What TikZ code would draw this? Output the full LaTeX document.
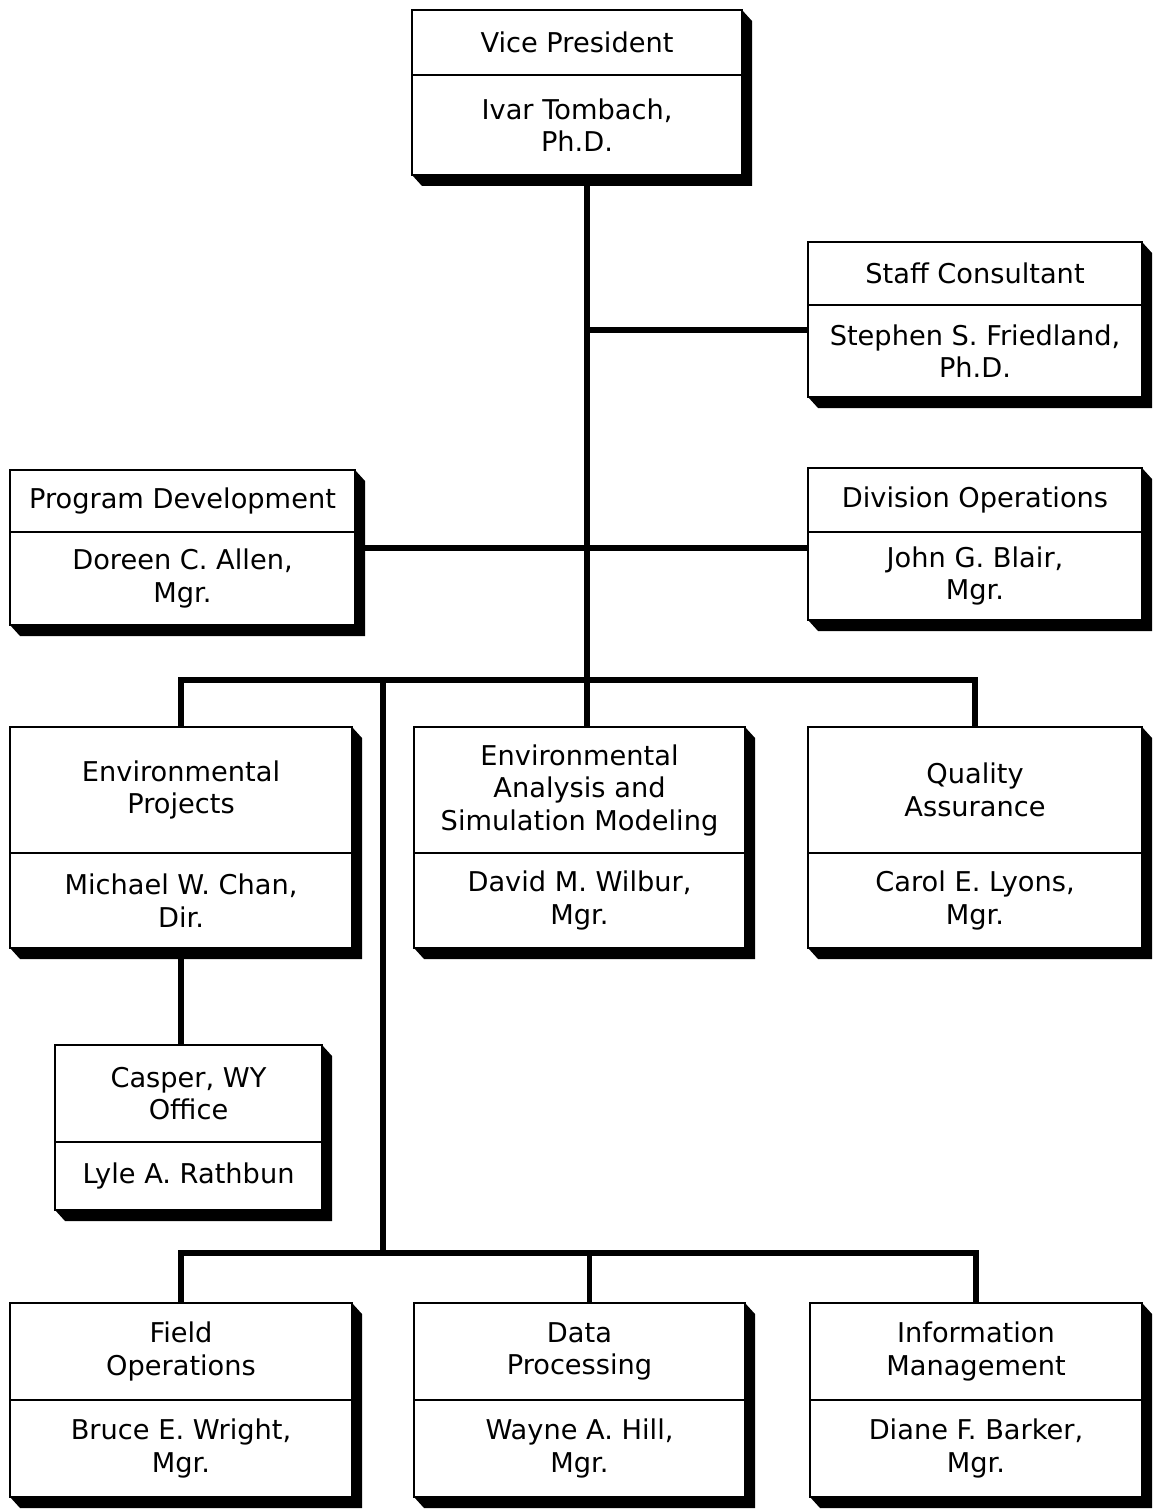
\documentclass[tikz,border=0pt]{standalone}
\usepackage{fontspec}
\setmainfont{DejaVu Sans}
\usetikzlibrary{calc,positioning}

% one unit box: name, x, y, width, head height, name height, title, person
\newcommand\unitbox[8]{%
	\node[head, minimum width=#4*0.02cm, minimum height=#5*0.02cm] (#1h) at (#2,#3) {#7};
	\node[who, minimum width=#4*0.02cm, minimum height=#6*0.02cm, below=0pt of #1h] (#1) {#8};
	\fill (#1h.north east) -- ++(10,11) -- ($(#1.south east)+(10,11)$) -- ($(#1.south west)+(10,11)$) -- (#1.south west) -- (#1.south east) -- cycle;
}

\begin{document}
\begin{tikzpicture}[
		x=0.02cm, y=-0.02cm,
		part/.style={draw, line width=1.4pt, fill=white, align=center, inner sep=0pt, outer sep=0pt,
			font=\fontsize{15.5}{18.5}\selectfont},
		head/.style={part, anchor=north west},
		who/.style={part},
		link/.style={line width=3.4pt},
		]
		
		\fill[white] (0,0) rectangle (1156,1510);
		\useasboundingbox (0,0) rectangle (1156,1510);
		
		\unitbox{vp}{412}{10}{330}{65}{100}{Vice President}{Ivar Tombach,\\Ph.D.}
		\unitbox{staff}{808}{242}{334}{63}{92}{Staff Consultant}{Stephen S. Friedland,\\Ph.D.}
		\unitbox{prog}{10}{470}{345}{62}{93}{Program Development}{Doreen C. Allen,\\Mgr.}
		\unitbox{div}{808}{468}{334}{64}{88}{Division Operations}{John G. Blair,\\Mgr.}
		\unitbox{envp}{10}{727}{342}{126}{95}{Environmental\\Projects}{Michael W. Chan,\\Dir.}
		\unitbox{ea}{414}{727}{331}{126}{95}{Environmental\\Analysis and\\Simulation Modeling}{David M. Wilbur,\\Mgr.}
		\unitbox{qa}{808}{727}{334}{126}{95}{Quality\\Assurance}{Carol E. Lyons,\\Mgr.}
		\unitbox{casper}{55}{1045}{267}{97}{68}{Casper, WY\\Office}{Lyle A. Rathbun}
		\unitbox{fo}{10}{1303}{342}{97}{97}{Field\\Operations}{Bruce E. Wright,\\Mgr.}
		\unitbox{dp}{414}{1303}{331}{97}{97}{Data\\Processing}{Wayne A. Hill,\\Mgr.}
		\unitbox{im}{810}{1303}{332}{97}{97}{Information\\Management}{Diane F. Barker,\\Mgr.}
		
		% junctions
		\coordinate (trunk) at (587,680);
		\coordinate (scj) at (587,330);
		\coordinate (pdj) at (587,548);
		\coordinate (side) at (383,680);
		\coordinate (low) at (383,1253);
		
		\draw[link] (vp.south -| trunk) -- (eah.north -| trunk);
		\draw[link] (scj) -- (scj -| staff.west);
		\draw[link] (pdj -| prog.east) -- (pdj -| div.west);
		\draw[link] (envph.north) |- (trunk) -| (qah.north);
		\draw[link] (envp.south) -- (envp.south |- casperh.north);
		\draw[link] (side) -- (low);
		\draw[link] (foh.north) |- (low) -| (imh.north);
		\draw[link] ([xshift=0.2cm]dph.north) -- ([xshift=0.2cm]dph.north |- low);
		
	\end{tikzpicture}
\end{document}
